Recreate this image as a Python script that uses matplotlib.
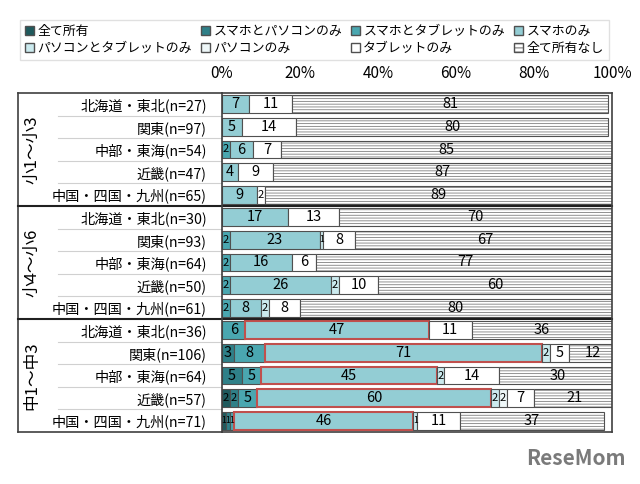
import numpy as np
import matplotlib
matplotlib.use('Agg')
import matplotlib.pyplot as plt
from matplotlib.patches import Patch

plt.rcParams['font.family'] = ['Noto Sans CJK JP', 'DejaVu Sans']
plt.rcParams['hatch.linewidth'] = 0.6

categories = ['全て所有', 'スマホとパソコンのみ', 'スマホとタブレットのみ', 'スマホのみ',
              'パソコンとタブレットのみ', 'パソコンのみ', 'タブレットのみ', '全て所有なし']
regions = ['北海道・東北', '関東', '中部・東海', '近畿', '中国・四国・九州']
groups = ['小1～小3', '小4～小6', '中1～中3']
n_counts = [27, 97, 54, 47, 65,
            30, 93, 64, 50, 61,
            36, 106, 64, 57, 71]

# values (%) per category, rows top to bottom
all_own      = [0, 0, 0, 0, 0,  0, 0, 0, 0, 0,  0, 0, 0, 2, 1]
phone_pc     = [0, 0, 0, 0, 0,  0, 0, 0, 0, 0,  0, 3, 5, 2, 1]
phone_tab    = [0, 0, 2, 0, 0,  0, 2, 2, 2, 2,  6, 8, 5, 5, 1]
phone_only   = [7, 5, 6, 4, 9,  17, 23, 16, 26, 8,  47, 71, 45, 60, 46]
pc_tab       = [0, 0, 0, 0, 0,  0, 1, 0, 2, 2,  0, 2, 2, 2, 1]
pc_only      = [0, 0, 0, 0, 0,  0, 0, 0, 0, 0,  0, 0, 0, 2, 0]
tab_only     = [11, 14, 7, 9, 2,  13, 8, 6, 10, 8,  11, 5, 14, 7, 11]
none_own     = [81, 80, 85, 87, 89,  70, 67, 77, 60, 80,  36, 12, 30, 21, 37]

series = [all_own, phone_pc, phone_tab, phone_only, pc_tab, pc_only, tab_only, none_own]
colors = ['#1f5a5d', '#2f8088', '#4aa7b0', '#93cdd4', '#cbeaee', '#eef7f8', '#ffffff', '#ffffff']

row_labels = [f'{regions[i % 5]}(n={n})' for i, n in enumerate(n_counts)]

fig = plt.figure(figsize=(6.4, 4.84), dpi=100)
ax = fig.add_axes([222/640, 1-432/484, 390/640, (432-93)/484])

y = np.arange(len(row_labels))
left = np.zeros(len(row_labels))
for k, (vals, c) in enumerate(zip(series, colors)):
    vals = np.array(vals, dtype=float)
    for i in range(len(vals)):
        if vals[i] == 0:
            continue
        ec, lw = '#505050', 0.8
        if k == 3 and i >= 10:
            ec, lw = '#c0504d', 1.5
        if k == 7:
            ax.barh(y[i], vals[i], left=left[i], height=0.78, color='white',
                    edgecolor='#7f7f7f', hatch='------', linewidth=0)
            ax.barh(y[i], vals[i], left=left[i], height=0.78, fill=False,
                    edgecolor='#505050', linewidth=0.8)
        else:
            ax.barh(y[i], vals[i], left=left[i], height=0.78, color=c,
                    edgecolor=ec, linewidth=lw)
        if vals[i] >= 3:
            fs = 10.5
        elif vals[i] == 2:
            fs = 8
        else:
            fs = 6
        ax.text(left[i] + vals[i] / 2, y[i], f'{vals[i]:g}', ha='center',
                va='center', fontsize=fs, color='black')
    left += vals

ax.set_xlim(0, 100)
ax.set_ylim(len(row_labels) - 0.5, -0.5)
ax.xaxis.tick_top()
ax.set_xticks(np.arange(0, 101, 20))
ax.set_xticklabels([f'{v}%' for v in range(0, 101, 20)], fontsize=11)
ax.tick_params(axis='x', length=0, pad=8)
ax.set_yticks(y)
ax.set_yticklabels(row_labels, fontsize=10.2)
ax.tick_params(axis='y', length=0, pad=11)
for s in ax.spines.values():
    s.set_color('#404040')
    s.set_linewidth(1.2)

# table-like frame on the left
tr = ax.get_yaxis_transform()
x_out = -204/390
x_in = -164/390
ax.plot([x_out, x_out], [-0.5, 14.5], color='#404040', lw=1.2, transform=tr, clip_on=False)
for yy in [-0.5, 14.5]:
    ax.plot([x_out, 0], [yy, yy], color='#404040', lw=1.2, transform=tr, clip_on=False)
for yy in [4.5, 9.5]:
    ax.plot([x_out, 1], [yy, yy], color='#202020', lw=1.5, transform=tr, clip_on=False)
for yy in np.arange(0.5, 14, 1):
    if yy in (4.5, 9.5):
        continue
    ax.plot([x_in, 0], [yy, yy], color='#d0d0d0', lw=0.8, transform=tr, clip_on=False)

for g, name in enumerate(groups):
    ax.text(-190/390, g * 5 + 2, name, rotation=90, ha='center', va='center',
            fontsize=12, transform=tr)

# legend
handles = []
for k, (c, name) in enumerate(zip(colors, categories)):
    if k == 7:
        handles.append(Patch(facecolor='white', edgecolor='#505050', hatch='----', label=name))
    else:
        handles.append(Patch(facecolor=c, edgecolor='#505050', label=name))
order = [0, 4, 1, 5, 2, 6, 3, 7]
leg = fig.legend([handles[i] for i in order], [categories[i] for i in order],
                 loc='upper left', bbox_to_anchor=(20/640, 1-20/484), ncol=4,
                 fontsize=9.3, frameon=True, fancybox=False, edgecolor='#d9d9d9',
                 handlelength=0.7, handleheight=0.7, handletextpad=0.25,
                 columnspacing=0.7, borderpad=0.4, labelspacing=0.3,
                 borderaxespad=0)

fig.text(0.977, 0.03, 'ReseMom', ha='right', va='bottom', fontsize=15,
         fontweight='bold', color='#7a7a7a')

fig.savefig('out.png', dpi=100)
